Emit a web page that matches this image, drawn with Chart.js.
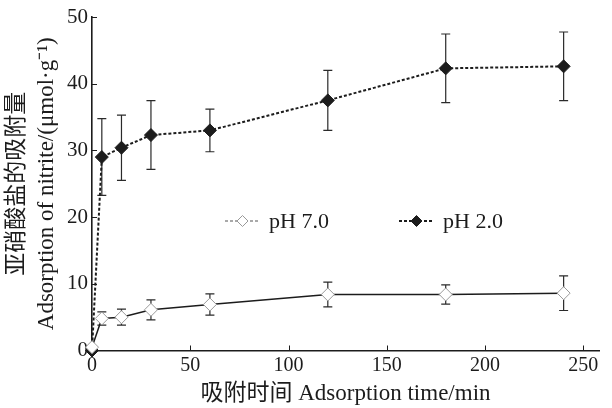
<!DOCTYPE html>
<html>
<head>
<meta charset="utf-8">
<script src="https://cdn.jsdelivr.net/npm/chart.js@4/dist/chart.umd.min.js"></script>
<style>
  html, body { margin:0; padding:0; background:#fff; }
  #wrap { width:612px; height:408px; }
</style>
</head>
<body>
<div id="wrap"><canvas id="adsChart" width="612" height="408"></canvas></div>
<script>
// adsorption time, min
const times = [0, 5, 15, 30, 60, 120, 180, 240];
// nitrite adsorbed, umol/g
const ph7 = [0.5, 4.8, 5.0, 6.1, 6.9, 8.4, 8.4, 8.6];
const ph7Err = [0, 1.0, 1.2, 1.5, 1.6, 1.85, 1.45, 2.6];
const ph2 = [0, 29.0, 30.4, 32.3, 33.0, 37.5, 42.3, 42.6];
const ph2Err = [0, 5.75, 4.9, 5.15, 3.2, 4.5, 5.15, 5.15];
const xTicks = [0, 50, 100, 150, 200, 250];
const yTicks = [0, 10, 20, 30, 40, 50];
const seriesNames = ['pH 7.0', 'pH 2.0'];

const INK = '#1c1c1c';
const SERIF = "'Liberation Serif', 'Times New Roman', 'Noto Sans CJK SC', serif";

const toPoints = (ys) => times.map((t, i) => ({ x: t, y: ys[i] }));

/* ---------- error bars, under the markers ---------- */
const errorBars = {
  id: 'errorBars',
  beforeDatasetsDraw(chart) {
    const { ctx, scales: { x, y } } = chart;
    const sets = [[ph2, ph2Err], [ph7, ph7Err]];
    ctx.save();
    ctx.strokeStyle = '#2a2a2a';
    ctx.lineWidth = 1.2;
    sets.forEach(([vals, errs]) => {
      times.forEach((t, i) => {
        if (!errs[i]) return;
        const px = x.getPixelForValue(t);
        const top = y.getPixelForValue(vals[i] + errs[i]);
        const bot = y.getPixelForValue(vals[i] - errs[i]);
        ctx.beginPath();
        ctx.moveTo(px, top); ctx.lineTo(px, bot);
        ctx.moveTo(px - 4.5, top); ctx.lineTo(px + 4.5, top);
        ctx.moveTo(px - 4.5, bot); ctx.lineTo(px + 4.5, bot);
        ctx.stroke();
      });
    });
    ctx.restore();
  }
};

/* ---------- inward tick marks ---------- */
const innerTicks = {
  id: 'innerTicks',
  afterDatasetsDraw(chart) {
    const { ctx, scales: { x, y } } = chart;
    ctx.save();
    ctx.strokeStyle = INK;
    ctx.lineWidth = 1;
    ctx.beginPath();
    xTicks.slice(1).forEach(v => {
      const px = Math.round(x.getPixelForValue(v)) + 0.5;
      ctx.moveTo(px, y.bottom); ctx.lineTo(px, y.bottom - 5);
    });
    yTicks.slice(1).forEach(v => {
      const py = Math.round(y.getPixelForValue(v)) + 0.5;
      ctx.moveTo(x.left, py); ctx.lineTo(x.left + 5, py);
    });
    ctx.stroke();
    ctx.restore();
  }
};

/* ---------- legend: line + diamond, inside the plot ---------- */
const lineLegend = {
  id: 'lineLegend',
  afterDraw(chart) {
    const { ctx } = chart;
    const rows = [
      { x: 225, text: seriesNames[0], fill: '#fff', stroke: '#999', line: '#555', w: 1.2 },
      { x: 399, text: seriesNames[1], fill: INK, stroke: INK, line: INK, w: 1.8 }
    ];
    const cy = 221;
    ctx.save();
    rows.forEach(r => {
      ctx.strokeStyle = r.line;
      ctx.lineWidth = r.w;
      ctx.setLineDash([3, 2]);
      ctx.beginPath();
      ctx.moveTo(r.x, cy); ctx.lineTo(r.x + 35, cy);
      ctx.stroke();
      ctx.setLineDash([]);
      const cx = r.x + 17.5, s = 5.5;
      ctx.beginPath();
      ctx.moveTo(cx, cy - s); ctx.lineTo(cx + s, cy);
      ctx.lineTo(cx, cy + s); ctx.lineTo(cx - s, cy);
      ctx.closePath();
      ctx.fillStyle = r.fill; ctx.fill();
      ctx.strokeStyle = r.stroke; ctx.lineWidth = 1; ctx.stroke();
      ctx.fillStyle = INK;
      ctx.font = '22px ' + SERIF;
      ctx.textBaseline = 'middle';
      ctx.fillText(r.text, r.x + 44, cy + 1);
    });
    ctx.restore();
  }
};

new Chart(document.getElementById('adsChart'), {
  type: 'line',
  data: {
    datasets: [
      {
        label: seriesNames[0],
        data: toPoints(ph7),
        borderColor: INK,
        borderWidth: 1.5,
        pointStyle: 'rectRot',
        pointRadius: 6.5,
        pointBackgroundColor: '#fff',
        pointBorderColor: '#9a9a9a',
        pointBorderWidth: 1,
        clip: false,
        order: 0
      },
      {
        label: seriesNames[1],
        data: toPoints(ph2),
        borderColor: INK,
        borderWidth: 2,
        borderDash: [3, 2],
        pointStyle: 'rectRot',
        pointRadius: 6.5,
        pointBackgroundColor: INK,
        pointBorderColor: INK,
        pointBorderWidth: 1,
        clip: false,
        order: 1
      }
    ]
  },
  options: {
    responsive: false,
    animation: false,
    events: [],
    layout: { padding: { top: 17, right: 13, left: 0, bottom: 0 } },
    plugins: {
      legend: { display: false },
      tooltip: { enabled: false }
    },
    scales: {
      x: {
        type: 'linear',
        min: 0,
        max: 258,
        afterFit: (s) => { s.height = 57.5; },
        afterBuildTicks: (s) => { s.ticks = xTicks.map(v => ({ value: v })); },
        grid: { display: false, drawTicks: false },
        border: { display: true, color: INK, width: 1.6 },
        ticks: { color: INK, font: { family: SERIF, size: 20 }, padding: 3, maxRotation: 0 },
        title: {
          display: true,
          text: '吸附时间 Adsorption time/min',
          color: INK,
          font: { family: SERIF, size: 23 },
          padding: { top: 0, bottom: 0 }
        }
      },
      y: {
        min: 0,
        max: 50,
        afterFit: (s) => { s.width = 92; },
        afterBuildTicks: (s) => { s.ticks = yTicks.map(v => ({ value: v })); },
        grid: { display: false, drawTicks: false },
        border: { display: true, color: INK, width: 1.6 },
        ticks: { color: INK, font: { family: SERIF, size: 21 }, padding: 4 },
        title: {
          display: true,
          text: ['亚硝酸盐的吸附量', 'Adsorption of nitrite/(μmol·g⁻¹)'],
          color: INK,
          font: { family: SERIF, size: 23, lineHeight: 1.3 },
          padding: { top: 2, bottom: 0 }
        }
      }
    }
  },
  plugins: [errorBars, innerTicks, lineLegend]
});
</script>
</body>
</html>
